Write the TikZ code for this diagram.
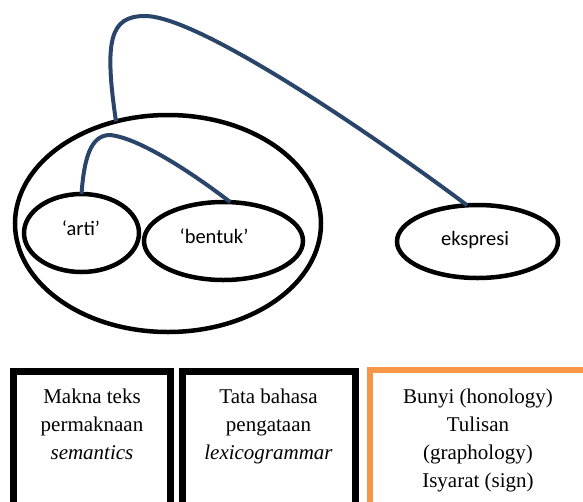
\documentclass[tikz,border=0pt]{standalone}
\usepackage{fontspec}
\setmainfont{Liberation Serif}
\newfontfamily\calibri{Carlito}
\usetikzlibrary{shapes.geometric}
\definecolor{linkblue}{RGB}{41,69,106}
\definecolor{boxorange}{RGB}{247,150,70}
\begin{document}
\begin{tikzpicture}[x=1pt,y=-1pt,
  oval/.style={draw=black, line width=4.5pt, shape=ellipse, inner sep=0pt, outer sep=0pt},
  ovaltext/.style={font=\calibri\fontsize{20.5}{24}\selectfont, anchor=base, inner sep=0pt},
  conn/.style={draw=linkblue, line width=4pt},
  blackbox/.style={draw=black, line width=7pt},
  orangebox/.style={draw=boxorange, line width=6.5pt},
  boxtext/.style={font=\fontsize{21}{28}\selectfont, anchor=base, inner sep=0pt}]
\useasboundingbox (0,0) rectangle (583,501);
\clip (0,0) rectangle (583,501);
% ellipses
\node[oval, minimum width=306pt, minimum height=217pt] (big) at (168,223.5) {};
\node[oval, minimum width=115pt, minimum height=78pt] (arti) at (81.5,233) {};
\node[oval, minimum width=159pt, minimum height=78pt] (bentuk) at (223.5,241) {};
\node[oval, minimum width=161pt, minimum height=73pt] (ekspresi) at (477.5,241.5) {};
% labels
\node[ovaltext] (artiT) at (81,235) {‘arti’};
\node[ovaltext] (bentukT) at (214,243) {‘bentuk’};
\node[ovaltext] (ekspresiT) at (475,245) {ekspresi};
% connectors
\draw[conn] (arti.90) .. controls (84,160) and (90,135) .. (110,135)
  .. controls (140,138) and (195,175) .. (bentuk.80);
\draw[conn] (big.117) .. controls (104,40) and (110,16) .. (145,16)
  .. controls (200,16) and (380,140) .. (ekspresi.106);
% boxes
\draw[blackbox] (13.5,520) -- (13.5,371.5) -- (170,371.5) -- (170,520);
\draw[blackbox] (182,520) -- (182,371.5) -- (355,371.5) -- (355,520);
\draw[orangebox] (370,520) -- (370,370) -- (590,370) -- (590,520);
% box texts
\node[boxtext] (m1) at (92,403) {Makna teks};
\node[boxtext] (m2) at (92,431) {permaknaan};
\node[boxtext] (m3) at (92,459) {\itshape semantics};
\node[boxtext] (t1) at (268.5,403) {Tata bahasa};
\node[boxtext] (t2) at (268.5,431) {pengataan};
\node[boxtext] (t3) at (268.5,459) {\itshape lexicogrammar};
\node[boxtext] (s1) at (478,403) {Bunyi (honology)};
\node[boxtext] (s2) at (478,431) {Tulisan};
\node[boxtext] (s3) at (478,459) {(graphology)};
\node[boxtext] (s4) at (478,487) {Isyarat (sign)};
\end{tikzpicture}
\end{document}
